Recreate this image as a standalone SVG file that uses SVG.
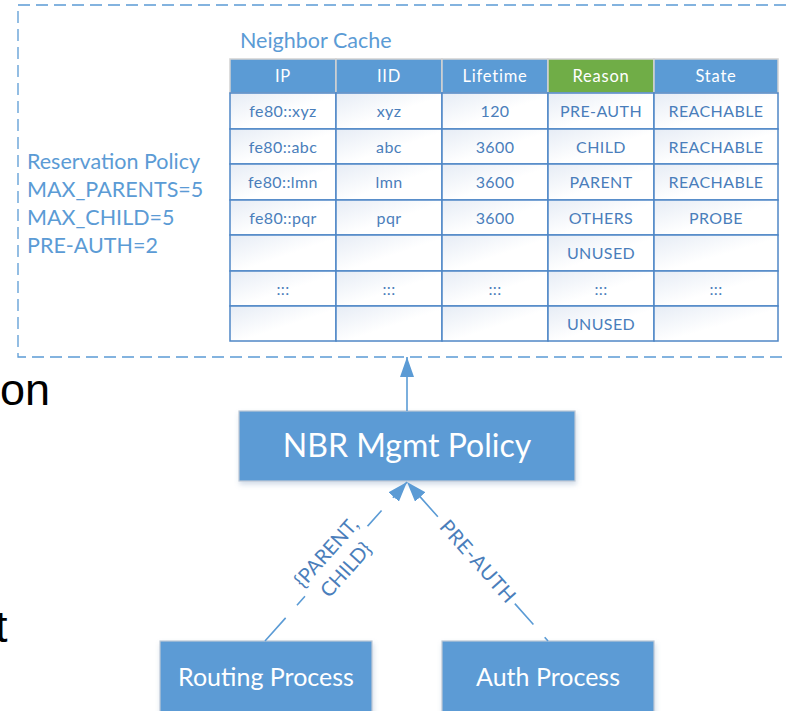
<svg xmlns="http://www.w3.org/2000/svg" width="786" height="711" viewBox="0 0 786 711">
<style>
.t{font-family:Lato,"Liberation Sans",sans-serif}
.frame{fill:none;stroke:#5B9BD5;stroke-width:1.3;stroke-dasharray:12 6}
.hdr{fill:#5B9BD5;stroke:#D2D2D2;stroke-width:1.5}
.hdrg{fill:#70AD47;stroke:#D2D2D2;stroke-width:1.5}
.cell{fill:url(#cg);stroke:#4F87C6;stroke-width:1.5}
.ht{font-size:16.5px;fill:#FFFFFF;text-anchor:middle;letter-spacing:0.8px}
.ct{font-size:16px;fill:#4A7EBB;text-anchor:middle;letter-spacing:0.4px}
.lbl{font-size:21.5px;fill:#5B9BD5}
.box{fill:#5B9BD5;stroke:#BFC9D6;stroke-width:1.2}
.bt{fill:#FFFFFF;text-anchor:middle}
.conn{fill:none;stroke:#5B9BD5;stroke-width:1.6}
.el{font-size:20px;fill:#4A7EBB;text-anchor:middle}
.bg{font-family:"Liberation Sans",Arial,sans-serif;font-size:45px;fill:#000000}
</style>
<defs>
<linearGradient id="cg" x1="0" y1="0" x2="1" y2="1">
<stop offset="0" stop-color="#E6ECF5"/>
<stop offset="0.55" stop-color="#FFFFFF"/>
</linearGradient>
<filter id="sh" x="-10%" y="-10%" width="125%" height="140%">
<feDropShadow dx="1" dy="3" stdDeviation="2.5" flood-color="#7F9CC0" flood-opacity="0.35"/>
</filter>
<marker id="arr" markerUnits="userSpaceOnUse" markerWidth="20" markerHeight="14" refX="20" refY="7" orient="auto" viewBox="0 0 20 14">
<path d="M0,0 L20,7 L0,14 z" fill="#5B9BD5"/>
</marker>
</defs>
<rect width="786" height="711" fill="#FFFFFF"/>

<g id="background-text">
<text class="bg" x="0" y="405">on</text>
<text class="bg" x="-5" y="642">t</text>
</g>

<g id="cache-frame">
<rect class="frame" x="18" y="5" width="800" height="352"/>
</g>

<g id="reservation-policy">
<text class="t lbl" x="27" y="169">Reservation Policy</text>
<text class="t lbl" x="27" y="197">MAX_PARENTS=5</text>
<text class="t lbl" x="27" y="225">MAX_CHILD=5</text>
<text class="t lbl" x="27" y="253">PRE-AUTH=2</text>
</g>

<g id="neighbor-cache">
<text class="t lbl" x="240" y="48">Neighbor Cache</text>
<rect class="hdr" x="230" y="59" width="106" height="34"/>
<rect class="hdr" x="336" y="59" width="106" height="34"/>
<rect class="hdr" x="442" y="59" width="106" height="34"/>
<rect class="hdrg" x="548" y="59" width="106" height="34"/>
<rect class="hdr" x="654" y="59" width="124" height="34"/>
<text class="t ht" x="283" y="82">IP</text>
<text class="t ht" x="389" y="82">IID</text>
<text class="t ht" x="495" y="82">Lifetime</text>
<text class="t ht" x="601" y="82">Reason</text>
<text class="t ht" x="716" y="82">State</text>
<g id="rows">
<rect class="cell" x="230" y="93" width="106" height="36"/><rect class="cell" x="336" y="93" width="106" height="36"/><rect class="cell" x="442" y="93" width="106" height="36"/><rect class="cell" x="548" y="93" width="106" height="36"/><rect class="cell" x="654" y="93" width="124" height="36"/>
<rect class="cell" x="230" y="129" width="106" height="35"/><rect class="cell" x="336" y="129" width="106" height="35"/><rect class="cell" x="442" y="129" width="106" height="35"/><rect class="cell" x="548" y="129" width="106" height="35"/><rect class="cell" x="654" y="129" width="124" height="35"/>
<rect class="cell" x="230" y="164" width="106" height="36"/><rect class="cell" x="336" y="164" width="106" height="36"/><rect class="cell" x="442" y="164" width="106" height="36"/><rect class="cell" x="548" y="164" width="106" height="36"/><rect class="cell" x="654" y="164" width="124" height="36"/>
<rect class="cell" x="230" y="200" width="106" height="35"/><rect class="cell" x="336" y="200" width="106" height="35"/><rect class="cell" x="442" y="200" width="106" height="35"/><rect class="cell" x="548" y="200" width="106" height="35"/><rect class="cell" x="654" y="200" width="124" height="35"/>
<rect class="cell" x="230" y="235" width="106" height="36"/><rect class="cell" x="336" y="235" width="106" height="36"/><rect class="cell" x="442" y="235" width="106" height="36"/><rect class="cell" x="548" y="235" width="106" height="36"/><rect class="cell" x="654" y="235" width="124" height="36"/>
<rect class="cell" x="230" y="271" width="106" height="35"/><rect class="cell" x="336" y="271" width="106" height="35"/><rect class="cell" x="442" y="271" width="106" height="35"/><rect class="cell" x="548" y="271" width="106" height="35"/><rect class="cell" x="654" y="271" width="124" height="35"/>
<rect class="cell" x="230" y="306" width="106" height="35"/><rect class="cell" x="336" y="306" width="106" height="35"/><rect class="cell" x="442" y="306" width="106" height="35"/><rect class="cell" x="548" y="306" width="106" height="35"/><rect class="cell" x="654" y="306" width="124" height="35"/>
</g>
<g id="cell-text">
<text class="t ct" x="283" y="117">fe80::xyz</text><text class="t ct" x="389" y="117">xyz</text><text class="t ct" x="495" y="117">120</text><text class="t ct" x="601" y="117">PRE-AUTH</text><text class="t ct" x="716" y="117">REACHABLE</text>
<text class="t ct" x="283" y="152.5">fe80::abc</text><text class="t ct" x="389" y="152.5">abc</text><text class="t ct" x="495" y="152.5">3600</text><text class="t ct" x="601" y="152.5">CHILD</text><text class="t ct" x="716" y="152.5">REACHABLE</text>
<text class="t ct" x="283" y="188">fe80::lmn</text><text class="t ct" x="389" y="188">lmn</text><text class="t ct" x="495" y="188">3600</text><text class="t ct" x="601" y="188">PARENT</text><text class="t ct" x="716" y="188">REACHABLE</text>
<text class="t ct" x="283" y="223.5">fe80::pqr</text><text class="t ct" x="389" y="223.5">pqr</text><text class="t ct" x="495" y="223.5">3600</text><text class="t ct" x="601" y="223.5">OTHERS</text><text class="t ct" x="716" y="223.5">PROBE</text>
<text class="t ct" x="601" y="259">UNUSED</text>
<text class="t ct" x="283" y="294.5">:::</text><text class="t ct" x="389" y="294.5">:::</text><text class="t ct" x="495" y="294.5">:::</text><text class="t ct" x="601" y="294.5">:::</text><text class="t ct" x="716" y="294.5">:::</text>
<text class="t ct" x="601" y="329.5">UNUSED</text>
</g>
</g>

<g id="nbr-mgmt-policy">
<rect class="box" x="239" y="411" width="336" height="70" filter="url(#sh)"/>
<text class="t bt" x="407" y="457" font-size="32">NBR Mgmt Policy</text>
</g>

<g id="routing-process">
<rect class="box" x="160" y="641" width="212" height="80" filter="url(#sh)"/>
<text class="t bt" x="266" y="686" font-size="25">Routing Process</text>
</g>

<g id="auth-process">
<rect class="box" x="442" y="641" width="212" height="80" filter="url(#sh)"/>
<text class="t bt" x="548" y="686" font-size="25">Auth Process</text>
</g>

<g id="connectors">
<path class="conn" d="M407,411 V357" marker-end="url(#arr)"/>
<path class="conn" d="M265,641 L407,482" stroke-dasharray="31 17" marker-end="url(#arr)"/>
<path class="conn" d="M548,641 L407,482" stroke-dasharray="31 17" stroke-dashoffset="26" marker-end="url(#arr)"/>
<g transform="translate(336,561) rotate(-48.2)">
<rect x="-47" y="-6" width="94" height="12" fill="#FFFFFF"/>
<text class="t el" x="0" y="-6">{PARENT,</text>
<text class="t el" x="0" y="20">CHILD}</text>
</g>
<g transform="translate(478,561.5) rotate(48.4)">
<rect x="-56" y="-6" width="112" height="12" fill="#FFFFFF"/>
<text class="t el" x="0" y="7" letter-spacing="0.6">PRE-AUTH</text>
</g>
</g>
</svg>
